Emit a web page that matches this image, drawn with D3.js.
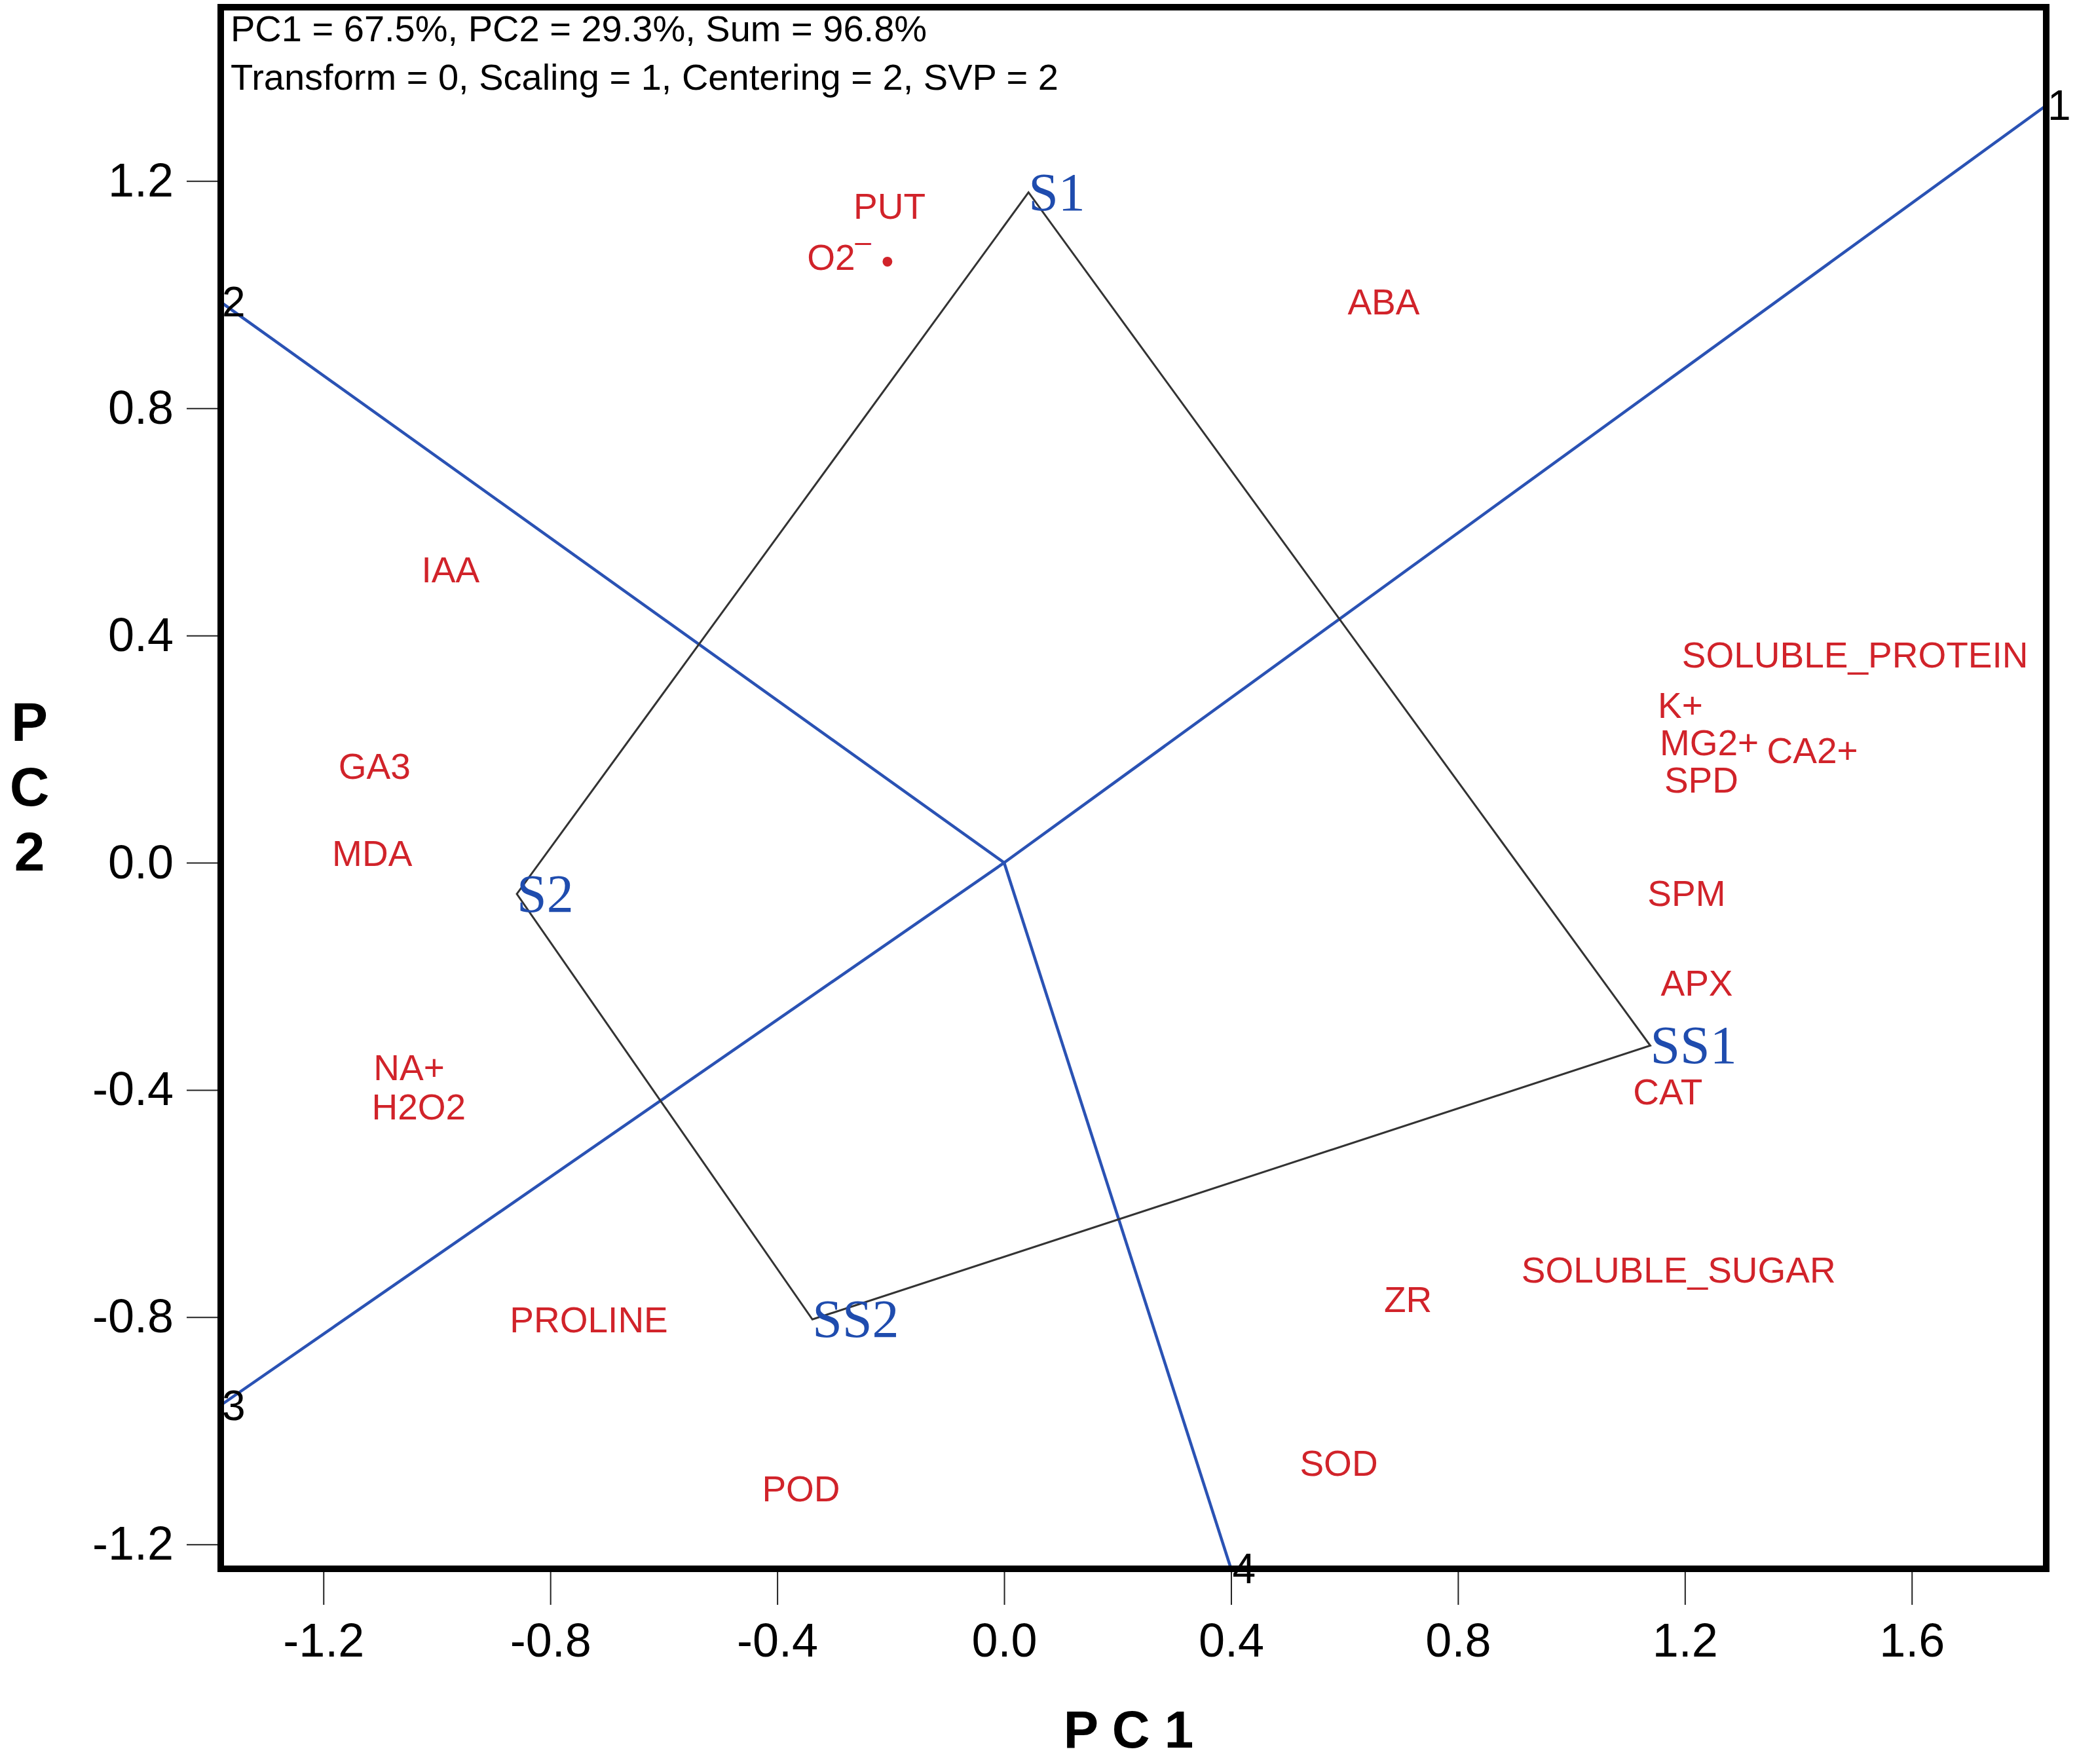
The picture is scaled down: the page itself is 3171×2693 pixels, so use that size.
<!DOCTYPE html>
<html>
<head>
<meta charset="utf-8">
<script src="https://cdn.jsdelivr.net/npm/d3@7"></script>
<style>
  html, body { margin: 0; padding: 0; background: #fff; }
  svg { font-family: "Liberation Sans", Arial, sans-serif; }
</style>
</head>
<body>
<script>
// ---------------- data ----------------
const headerLines = [
  "PC1 = 67.5%, PC2 = 29.3%, Sum = 96.8%",
  "Transform = 0, Scaling = 1, Centering = 2, SVP = 2"
];
const xTicks = [-1.2, -0.8, -0.4, 0.0, 0.4, 0.8, 1.2, 1.6];
const yTicks = [1.2, 0.8, 0.4, 0.0, -0.4, -0.8, -1.2];

// samples (polygon vertices, in drawing order)
const sampleNames = ["S1", "S2", "SS2", "SS1"];
const samplePC1 = [0.043, -0.859, -0.338, 1.139];
const samplePC2 = [1.180, -0.055, -0.804, -0.322];

// rays from origin (perpendiculars to polygon sides), end points
const rayNames = ["1", "2", "3", "4"];
const rayPC1 = [1.837, -1.381, -1.381, 0.400];
const rayPC2 = [1.333, 0.987, -0.955, -1.243];

// traits (label centres)
const traitNames = ["PUT", "O2", "ABA", "IAA", "GA3", "MDA", "NA+", "H2O2",
  "PROLINE", "POD", "SOD", "ZR", "SOLUBLE_SUGAR", "SOLUBLE_PROTEIN",
  "K+", "MG2+", "CA2+", "SPD", "SPM", "APX", "CAT"];
const traitPC1 = [-0.202, -0.271, 0.669, -0.976, -1.110, -1.114, -1.049, -1.032,
  -0.732, -0.358, 0.590, 0.712, 1.189, 1.500,
  1.192, 1.243, 1.425, 1.229, 1.203, 1.221, 1.170];
const traitPC2 = [1.156, 1.067, 0.988, 0.516, 0.170, 0.017, -0.360, -0.429,
  -0.804, -1.101, -1.057, -0.768, -0.716, 0.367,
  0.278, 0.212, 0.198, 0.146, -0.053, -0.211, -0.403];

// ---------------- layout ----------------
const W = 3171, H = 2693;
const plot = { left: 337, right: 3124, top: 11, bottom: 2395 };
const xDomain = [-1.381, 1.837];
const yDomain = [-1.243, 1.506];

const red = "#d1232a";
const blue = "#2a52b4";
const blueText = "#1f4cae";
const sans = '"Liberation Sans", Arial, sans-serif';
const serif = '"Liberation Serif", "Times New Roman", serif';

const svg = d3.select("body").append("svg")
  .attr("width", W).attr("height", H)
  .attr("viewBox", `0 0 ${W} ${H}`);

const x = d3.scaleLinear().domain(xDomain).range([plot.left, plot.right]);
const y = d3.scaleLinear().domain(yDomain).range([plot.bottom, plot.top]);
const fmt = d => d3.format(".1f")(d).replace("\u2212", "-");

// axes
const xAxis = d3.axisBottom(x).tickValues(xTicks).tickSize(55).tickPadding(28)
  .tickFormat(fmt);
const gx = svg.append("g").attr("transform", `translate(0,${plot.bottom})`).call(xAxis);
gx.select(".domain").remove();
gx.selectAll(".tick line").attr("stroke", "#222").attr("stroke-width", 2);
gx.selectAll(".tick text").style("font-size", "72px").style("font-family", sans).attr("fill", "#000");

const yAxis = d3.axisLeft(y).tickValues(yTicks).tickSize(52).tickPadding(20)
  .tickFormat(fmt);
const gy = svg.append("g").attr("transform", `translate(${plot.left},0)`).call(yAxis);
gy.select(".domain").remove();
gy.selectAll(".tick line").attr("stroke", "#222").attr("stroke-width", 2);
gy.selectAll(".tick text").style("font-size", "72px").style("font-family", sans).attr("fill", "#000");

const content = svg.append("g");

// rays
const rays = rayNames.map((n, i) => ({ name: n, px: rayPC1[i], py: rayPC2[i] }));
content.selectAll("line.ray").data(rays).join("line")
  .attr("class", "ray")
  .attr("x1", x(0)).attr("y1", y(0))
  .attr("x2", d => x(d.px)).attr("y2", d => y(d.py))
  .attr("stroke", blue).attr("stroke-width", 4.5);

// polygon
const samples = sampleNames.map((n, i) => ({ name: n, px: samplePC1[i], py: samplePC2[i] }));
content.append("path")
  .attr("d", d3.line().x(d => x(d.px)).y(d => y(d.py))(samples) + "Z")
  .attr("fill", "none").attr("stroke", "#333").attr("stroke-width", 3);

// sample labels
content.selectAll("text.sample").data(samples).join("text")
  .attr("class", "sample")
  .attr("x", d => x(d.px)).attr("y", d => y(d.py))
  .attr("dy", "0.33em")
  .style("font-family", serif)
  .style("font-size", "82px").attr("fill", blueText)
  .text(d => d.name);

// ray labels
content.selectAll("text.raylab").data(rays).join("text")
  .attr("class", "raylab")
  .attr("x", d => x(d.px) + 2).attr("y", d => y(d.py))
  .attr("dy", "0.35em")
  .style("font-family", sans)
  .style("font-size", "64px").attr("fill", "#000")
  .text(d => d.name);

// traits
const traits = traitNames.map((n, i) => ({ name: n, px: traitPC1[i], py: traitPC2[i] }));
const tg = content.selectAll("text.trait").data(traits).join("text")
  .attr("class", "trait")
  .attr("x", d => x(d.px)).attr("y", d => y(d.py))
  .attr("dy", "0.36em")
  .attr("text-anchor", "middle")
  .style("font-family", sans)
  .style("font-size", "55px").attr("fill", red);
tg.each(function(d) {
  const t = d3.select(this);
  if (d.name === "O2") {
    t.append("tspan").text("O2");
    t.append("tspan").attr("dy", "-0.62em").style("font-size", "44px").text("\u2013");
    t.append("tspan").attr("dy", "0.62em").text(" \u2022");
  } else {
    t.text(d.name);
  }
});

// frame
svg.append("rect")
  .attr("x", plot.left).attr("y", plot.top)
  .attr("width", plot.right - plot.left).attr("height", plot.bottom - plot.top)
  .attr("fill", "none").attr("stroke", "#000").attr("stroke-width", 10);

// header
svg.selectAll("text.header").data(headerLines).join("text")
  .attr("class", "header")
  .attr("x", 352).attr("y", (d, i) => 63 + i * 74)
  .style("font-family", sans)
  .style("font-size", "56px").attr("fill", "#000")
  .text(d => d);

// axis titles
svg.append("text")
  .attr("x", x(0) + 190).attr("y", 2668)
  .attr("text-anchor", "middle")
  .style("font-family", sans)
  .style("font-size", "80px").style("font-weight", "bold").attr("fill", "#000")
  .text("P C 1");

const pc2 = ["P", "C", "2"];
svg.selectAll("text.pc2").data(pc2).join("text")
  .attr("class", "pc2")
  .attr("x", 45).attr("y", (d, i) => 1131 + i * 99)
  .attr("text-anchor", "middle")
  .style("font-family", sans)
  .style("font-size", "84px").style("font-weight", "bold").attr("fill", "#000")
  .text(d => d);
</script>
</body>
</html>
